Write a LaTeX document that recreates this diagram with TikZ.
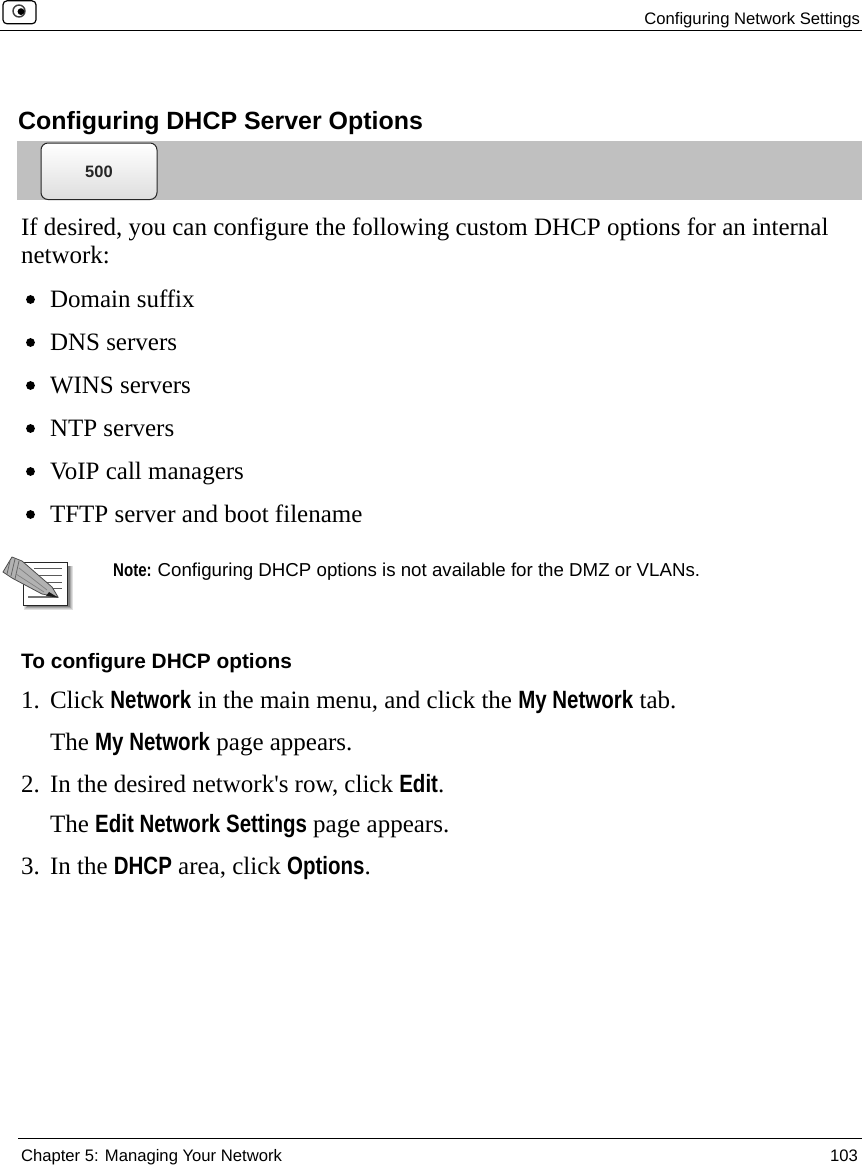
\documentclass[tikz,border=0pt]{standalone}
\usepackage{fontspec}
\setmainfont{Liberation Serif}[Ligatures=TeXOff]
\newfontfamily\arialf{Liberation Sans}
\newfontfamily\narrowb[FakeStretch=0.82]{Liberation Sans Bold}
\newcommand{\nb}[1]{{\narrowb #1}}
\definecolor{bargray}{HTML}{C0C0C0}
\tikzset{
 x=1pt,y=-1pt,
 txt/.style={anchor=base west,inner sep=0pt,outer sep=0pt,font=\fontsize{25}{30}\selectfont},
 small/.style={anchor=base west,inner sep=0pt,outer sep=0pt,font=\arialf\fontsize{16.65}{20}\selectfont},
 rule/.style={line width=1pt,black}
}
\begin{document}
\begin{tikzpicture}
\useasboundingbox (0,0) rectangle (862,1165);
\fill[white] (0,0) rectangle (862,1165);
% header
\draw[rule] (0,30.5) -- (862,30.5);
\draw[line width=1.2pt,rounded corners=4pt,fill=white] (3,0.8) rectangle (36,23.8);
\draw[line width=1.4pt,black!75,fill=white] (19,11) circle (6);
\fill (21,11.6) circle (3.4);
\node[small,anchor=base east] (hdr) at (860,24) {Configuring Network Settings};
% title
\node[anchor=base west,inner sep=0pt,font=\arialf\bfseries\fontsize{24.95}{28}\selectfont] (title) at (18,129) {Configuring DHCP Server Options};
\fill[bargray] (17,141) rectangle (862,200);
\fill[white] (17,200) rectangle (160,201);
\shade[top color=white,middle color=black!3,bottom color=black!13,draw=black!85,line width=1pt,rounded corners=7pt] (41,143) rectangle (157,199.5);
\node[inner sep=0pt,font=\arialf\bfseries\fontsize{16.5}{20}\selectfont,text=black!85] (btn) at (99,172) {500};
% body
\node[txt] (p1) at (21,235) {If desired, you can configure the following custom DHCP options for an internal};
\node[txt] (p2) at (21,263) {network:};
\foreach \yy/\tt in {307/Domain suffix,350/DNS servers,393/WINS servers,436/NTP servers,479/VoIP call managers,522/TFTP server and boot filename}{
  \fill (30.5,\yy-7.5) circle (4.4);
  \node[txt] at (50,\yy) {\tt};
}
% note icon
\begin{scope}
\foreach \o/\c in {5/12,4/22,3/35,2/50}{
  \fill[black!\c] (27-\o+2,566) rectangle (68+\o,605+\o);
}
\draw[line width=0.9pt,black!85,fill=white] (23,562) rectangle (67,605);
\foreach \yy in {568,575,582,588}{\draw[black!65,line width=1pt] (34,\yy) -- (62,\yy);}
\draw[line width=1.8pt,black!55] (28,597) -- (58,597);
\fill[black!30,draw=black!70,line width=0.8pt] (3,572) -- (12,557) -- (22,561) -- (52,587) -- (58,597) -- (42,594) -- (12,578) -- cycle;
\fill[black!90] (49,592) -- (58,597.5) -- (46,596) -- cycle;
\draw[black!60,line width=0.8pt] (10,561) -- (7,574);
\draw[black!60,line width=0.8pt] (15,559) -- (11,576);
\draw[black!60,line width=0.8pt] (19,561) -- (15,579);
\draw[black!50,line width=0.7pt] (19,568) -- (47,590);
\draw[black!50,line width=0.7pt] (16,574) -- (44,592);
\end{scope}
\node[anchor=base west,inner sep=0pt,font=\arialf\fontsize{18.7}{22}\selectfont] (note) at (113,576) {\nb{\fontsize{18.4}{22}\selectfont Note:}\hspace{-1pt} Configuring DHCP options is not available for the DMZ or VLANs.};
% procedure
\node[anchor=base west,inner sep=0pt,font=\arialf\bfseries\fontsize{20.85}{24}\selectfont] (proc) at (21,668) {To configure DHCP options};
\node[txt] at (21,708) {1.};
\node[txt] at (50,708) {Click \nb{Network} in the main menu, and click the \nb{My Network} tab.};
\node[txt] at (50,750) {The \nb{My Network} page appears.};
\node[txt] at (21,792) {2.};
\node[txt] at (50,792) {In the desired network's row, click \nb{Edit}.};
\node[txt] at (50,832) {The \nb{Edit Network Settings} page appears.};
\node[txt] at (21,874) {3.};
\node[txt] at (50,874) {In the \nb{DHCP} area, click \nb{Options}.};
% footer
\draw[rule] (18,1138.5) -- (862,1138.5);
\node[small] (ftl) at (21,1161) {Chapter 5: Managing Your Network};
\node[small,anchor=base east] (ftr) at (858,1161) {103};
\end{tikzpicture}
\end{document}
